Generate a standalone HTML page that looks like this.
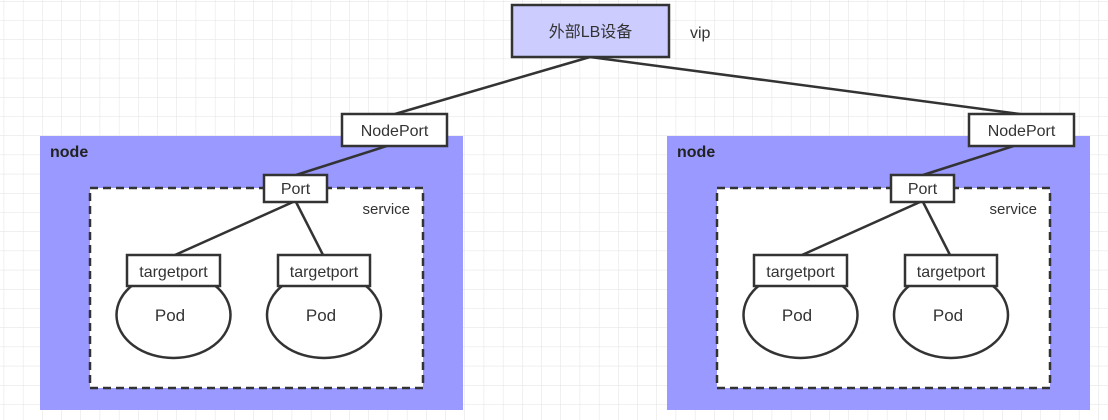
<!DOCTYPE html>
<html><head><meta charset="utf-8"><style>
html,body{margin:0;padding:0;background:#fff;}
svg{display:block;}
text{font-family:"Liberation Sans","Noto Sans CJK SC",sans-serif;fill:#333;}
</style></head><body>
<svg width="1108" height="420" xmlns="http://www.w3.org/2000/svg">
<defs>
<pattern id="g" x="3.7" y="1" width="19.2" height="19.2" patternUnits="userSpaceOnUse">
<path d="M0 0H19.2M0 0V19.2" stroke="#e2e2e2" stroke-width="1" fill="none"/>
</pattern>
<g id="nd">
<rect x="40" y="136" width="423" height="274" fill="#9999ff"/>
<text x="50" y="157" font-size="16" font-weight="bold" style="fill:#222">node</text>
<rect x="90" y="188" width="333" height="200" fill="#fff" stroke="#333" stroke-width="2.5" stroke-dasharray="8,5"/>
<text x="410" y="214" font-size="15" text-anchor="end">service</text>
<line x1="393" y1="144" x2="296" y2="175" stroke="#333" stroke-width="2.5"/>
<line x1="293" y1="202" x2="175" y2="255" stroke="#333" stroke-width="2.5"/>
<line x1="296" y1="202" x2="323" y2="255" stroke="#333" stroke-width="2.5"/>
<ellipse cx="173.5" cy="315" rx="57" ry="43" fill="#fff" stroke="#333" stroke-width="2.5"/>
<ellipse cx="324" cy="315" rx="57" ry="43" fill="#fff" stroke="#333" stroke-width="2.5"/>
<rect x="127" y="255" width="93" height="31" fill="#fff" stroke="#333" stroke-width="2.5"/>
<rect x="278" y="255" width="92" height="31" fill="#fff" stroke="#333" stroke-width="2.5"/>
<text x="173.5" y="277" font-size="16" text-anchor="middle">targetport</text>
<text x="324" y="277" font-size="16" text-anchor="middle">targetport</text>
<text x="170" y="321" font-size="17" text-anchor="middle">Pod</text>
<text x="321" y="321" font-size="17" text-anchor="middle">Pod</text>
<rect x="264" y="175" width="63" height="27" fill="#fff" stroke="#333" stroke-width="2.5"/>
<text x="295.5" y="194" font-size="16" text-anchor="middle">Port</text>
<rect x="342" y="114" width="105" height="32" fill="#fff" stroke="#333" stroke-width="2.5"/>
<text x="394.5" y="136" font-size="16" text-anchor="middle">NodePort</text>
</g>
</defs>
<rect width="1108" height="420" fill="url(#g)"/>
<line x1="590" y1="57" x2="395" y2="114" stroke="#333" stroke-width="2.5"/>
<line x1="590" y1="57" x2="1020" y2="114" stroke="#333" stroke-width="2.5"/>
<use href="#nd"/>
<use href="#nd" transform="translate(627,0)"/>
<rect x="512" y="5" width="157" height="52" fill="#ccccff" stroke="#333" stroke-width="2.5"/>
<text x="590.5" y="37" font-size="16" text-anchor="middle">外部LB设备</text>
<text x="690" y="38" font-size="16">vip</text>
</svg>
</body></html>
